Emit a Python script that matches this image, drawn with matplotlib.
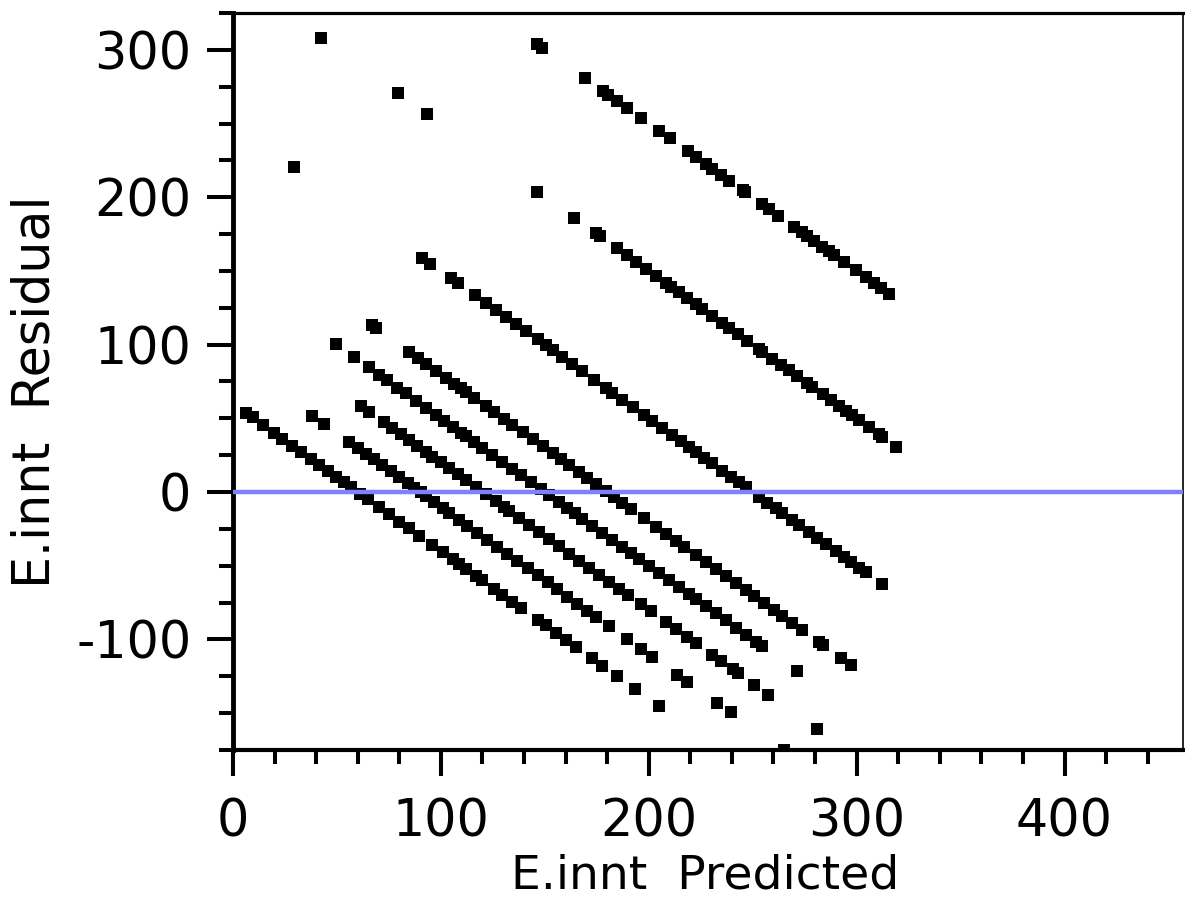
import numpy as np
import matplotlib
matplotlib.use("Agg")
import matplotlib.pyplot as plt
from matplotlib.ticker import MultipleLocator

# each diagonal band is one observed E.innt value; residual = observed - predicted
pred_60 = [6.2, 9.4, 14.2, 19.8, 23.8, 28.6, 32.6, 37.4, 41.4, 45.5, 49.5, 53.5, 56.7,
           61.0, 65.0, 70.3, 75.1, 80.0, 84.7, 89.5, 95.9, 100.8, 105.6, 108.8, 112.0,
           116.8, 120.0, 125.6, 129.6, 134.4, 138.4, 146.5, 150.5, 155.3, 160.1, 164.9,
           172.9, 177.7, 184.9, 193.3, 205.0]
pred_90 = [38.2, 43.9, 55.9, 59.9, 63.9, 67.9, 71.9, 75.9, 79.9, 84.0, 87.1, 90.3, 92.8,
           96.8, 100.8, 104.0, 108.8, 112.8, 117.6, 122.4, 127.2, 132.0, 136.8, 141.7,
           146.5, 151.3, 156.1, 160.9, 165.7, 170.5, 174.5, 180.9, 189.4, 196.2, 201.8,
           213.8, 218.6, 233.0, 239.5, 265.1]
pred_120 = [61.5, 65.5, 72.7, 76.7, 80.7, 84.7, 88.7, 92.7, 95.9, 99.9, 104.0, 108.0,
            112.0, 116.8, 121.6, 126.4, 130.4, 132.8, 137.6, 142.5, 147.3, 152.1, 156.9,
            161.7, 166.5, 171.3, 176.1, 180.9, 185.7, 189.8, 196.2, 201.0, 208.2, 213.0,
            218.6, 222.6, 230.6, 234.6, 240.3, 242.7, 250.7, 257.6, 280.7]
pred_150 = [49.5, 58.3, 65.5, 70.3, 74.3, 79.1, 83.1, 87.9, 92.7, 97.5, 101.6, 105.6,
            109.6, 112.0, 116.0, 120.0, 124.8, 129.6, 134.4, 138.4, 143.3, 148.1, 152.1,
            156.9, 160.9, 164.5, 168.1, 172.9, 177.7, 182.5, 187.3, 191.4, 195.4, 200.2,
            205.0, 209.8, 214.6, 219.4, 222.6, 227.4, 232.2, 237.1, 241.9, 246.7, 251.5,
            254.7, 271.5]
pred_180 = [67.0, 69.0, 84.7, 88.8, 92.8, 97.6, 102.4, 106.4, 109.6, 112.0, 116.0, 121.6,
            125.6, 130.4, 134.4, 139.3, 144.1, 148.9, 153.7, 157.7, 161.7, 166.5, 170.5,
            174.5, 179.3, 183.3, 187.3, 191.4, 197.8, 203.4, 208.2, 213.0, 217.0, 222.6,
            227.4, 232.2, 237.1, 241.9, 246.7, 250.7, 255.5, 260.3, 264.3, 269.1, 273.9,
            281.9, 283.6, 292.4, 297.2]
pred_250 = [29.3, 91.0, 95.0, 104.8, 108.0, 116.3, 121.6, 126.4, 131.2, 136.0, 140.9,
            146.5, 150.5, 153.7, 158.5, 163.3, 168.1, 173.7, 179.3, 182.5, 187.3, 192.2,
            197.8, 201.8, 206.6, 211.4, 215.4, 219.4, 222.6, 226.6, 230.6, 235.4, 239.5,
            243.5, 246.7, 253.1, 257.1, 261.1, 264.3, 269.1, 272.3, 277.1, 281.1, 285.2,
            290.0, 294.0, 297.2, 301.2, 304.4, 312.4]
pred_350 = [42.2, 79.3, 93.2, 146.1, 163.8, 174.5, 176.5, 184.6, 189.3, 193.8, 198.6,
            203.4, 208.2, 210.6, 214.6, 218.6, 222.6, 225.8, 230.6, 235.4, 238.7, 242.7,
            247.5, 253.1, 254.7, 259.5, 263.5, 267.5, 271.5, 276.3, 278.7, 283.6, 287.6,
            291.6, 294.8, 298.0, 301.2, 306.0, 310.8, 312.4, 319.1]
pred_450 = [146.1, 148.6, 169.2, 177.9, 180.6, 184.6, 189.4, 196.2, 204.8, 210.1, 218.9,
            222.6, 227.4, 230.6, 234.6, 238.7, 245.1, 246.4, 254.7, 257.9, 262.4, 269.9,
            273.9, 276.3, 279.5, 283.5, 286.8, 289.2, 294.0, 299.6, 304.4, 308.4, 311.6,
            315.6]

observed = [60, 90, 120, 150, 180, 250, 350, 450]
predicted = [pred_60, pred_90, pred_120, pred_150, pred_180, pred_250, pred_350, pred_450]

plt.rcParams['font.family'] = 'DejaVu Sans'
plt.rcParams['axes.unicode_minus'] = False

fig = plt.figure(figsize=(11.85, 9), dpi=100)
ax = fig.add_axes([233 / 1185, 1 - 750 / 900, (1183 - 233) / 1185, (750 - 13) / 900])

for obs, pred in zip(observed, predicted):
    pred = np.array(pred)
    ax.plot(pred, obs - pred, 's', color='black', ms=8.3, mew=0, zorder=2)

ax.axhline(0, color='#8080ff', lw=3.2, zorder=3)

ax.set_xlim(0, 457)
ax.set_ylim(-175, 325)
ax.xaxis.set_major_locator(MultipleLocator(100))
ax.xaxis.set_minor_locator(MultipleLocator(20))
ax.yaxis.set_major_locator(MultipleLocator(100))
ax.yaxis.set_minor_locator(MultipleLocator(25))
ax.tick_params(which='major', length=19, width=2.9, labelsize=36.5, color='black')
ax.tick_params(which='minor', length=10, width=2.9)
ax.tick_params(axis='x', which='major', pad=15)
ax.tick_params(axis='y', which='major', pad=11)

ax.spines['left'].set_linewidth(3.5)
ax.spines['bottom'].set_linewidth(3.0)
ax.spines['top'].set_linewidth(2.3)
ax.spines['right'].set_linewidth(1.2)

ax.set_xlabel('E.innt  Predicted', fontsize=34)
ax.set_ylabel('E.innt  Residual', fontsize=36.5)
ax.xaxis.set_label_coords(0.497, -0.141, transform=ax.transAxes)
ax.yaxis.set_label_coords(-0.208, 0.486, transform=ax.transAxes)
ax.xaxis.label.set_va('top')
ax.yaxis.label.set_va('center')

fig.savefig('out.png', dpi=100)
